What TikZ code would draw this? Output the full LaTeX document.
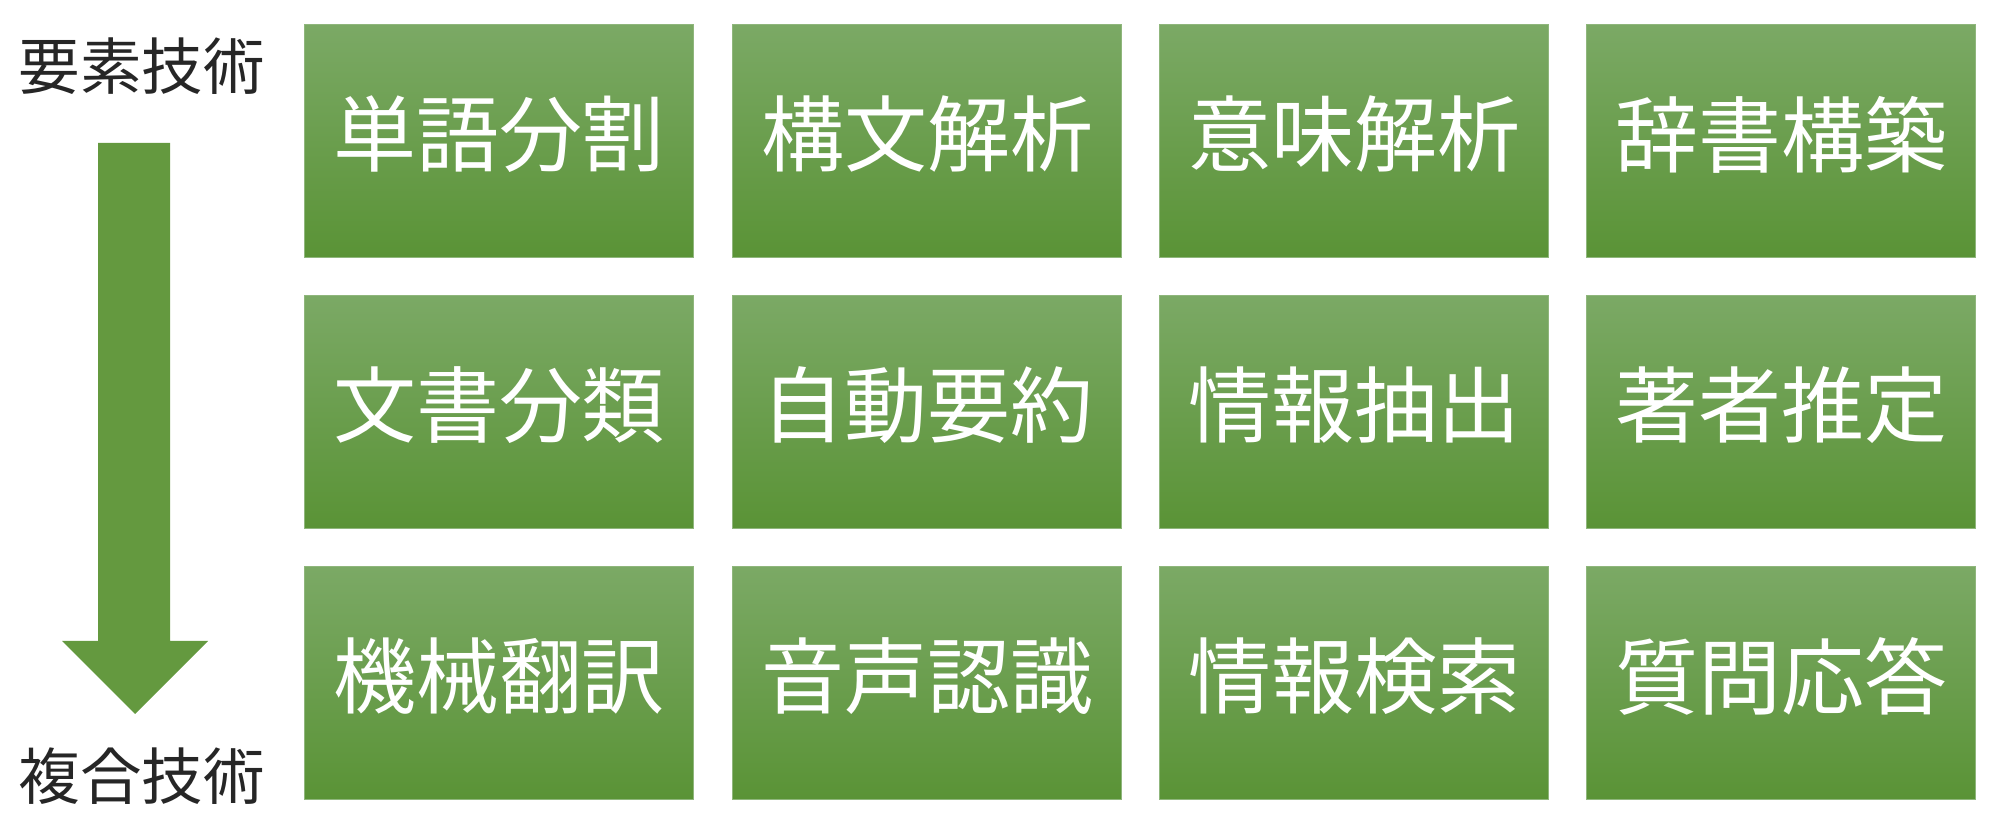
\documentclass[tikz,border=0pt]{standalone}
\usepackage{fontspec}
\newfontfamily\jpfont{Noto Sans CJK JP}

\definecolor{boxtop}{HTML}{7BA965}
\definecolor{boxbottom}{HTML}{5A9336}
\definecolor{arrowgreen}{HTML}{64993F}
\definecolor{labelgray}{HTML}{262626}

\begin{document}
\begin{tikzpicture}[x=0.01cm, y=-0.01cm,
    techbox/.style={rectangle, minimum width=3.88cm, minimum height=2.32cm,
        inner sep=0pt, top color=boxtop, bottom color=boxbottom, draw=boxtop!85!white,
        line width=0.3pt, text=white, font=\jpfont\fontsize{23.6pt}{28pt}\selectfont},
    sidelabel/.style={inner sep=0pt, text=labelgray, font=\jpfont\fontsize{17.5pt}{21pt}\selectfont}]
    \useasboundingbox (0,0) rectangle (2000,825);

    % 左側のラベル
    \node[sidelabel] (top) at (142,66) {要素技術};
    \node[sidelabel] (bottom) at (142,776) {複合技術};

    % 下向きの矢印
    \fill[arrowgreen] (98,143) -- (170,143) -- (170,641) -- (208,641)
        -- (135,714) -- (62,641) -- (98,641) -- cycle;

    % 1行目: 要素技術
    \node[techbox] (seg) at (499,141) {\raisebox{2mm}{単語分割}};
    \node[techbox] (syn) at (927,141) {\raisebox{2mm}{構文解析}};
    \node[techbox] (sem) at (1354,141) {\raisebox{2mm}{意味解析}};
    \node[techbox] (dic) at (1781,141) {\raisebox{2mm}{辞書構築}};

    % 2行目
    \node[techbox] (cls) at (499,412) {\raisebox{2mm}{文書分類}};
    \node[techbox] (sum) at (927,412) {\raisebox{2mm}{自動要約}};
    \node[techbox] (ext) at (1354,412) {\raisebox{2mm}{情報抽出}};
    \node[techbox] (aut) at (1781,412) {\raisebox{2mm}{著者推定}};

    % 3行目: 複合技術
    \node[techbox] (mt) at (499,683) {\raisebox{2mm}{機械翻訳}};
    \node[techbox] (asr) at (927,683) {\raisebox{2mm}{音声認識}};
    \node[techbox] (ir) at (1354,683) {\raisebox{2mm}{情報検索}};
    \node[techbox] (qa) at (1781,683) {\raisebox{2mm}{質問応答}};

\end{tikzpicture}
\end{document}
